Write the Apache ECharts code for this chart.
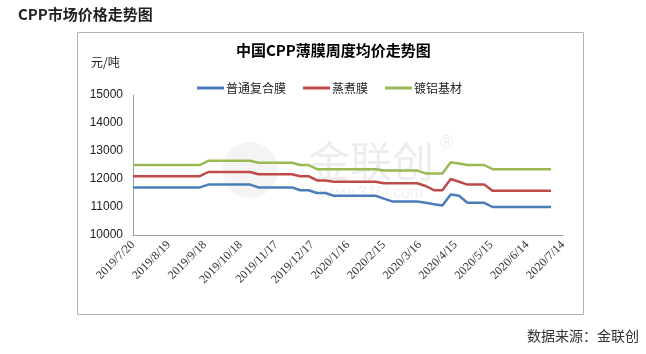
<!DOCTYPE html>
<html>
<head>
<meta charset="utf-8">
<script src="https://cdn.jsdelivr.net/npm/echarts@6/dist/echarts.min.js"></script>
<style>
html,body{margin:0;padding:0;background:#fff;}
#c{width:646px;height:354px;}
</style>
</head>
<body>
<div id="c"></div>
<script>
// ---- data ----
var startDate = '2019/7/20';
var dates = ['2019/7/20','2019/7/27','2019/8/3','2019/8/10','2019/8/17','2019/8/24','2019/8/31','2019/9/7','2019/9/14','2019/9/21',
  '2019/9/28','2019/10/5','2019/10/12','2019/10/19','2019/10/26','2019/11/2','2019/11/9','2019/11/16','2019/11/23','2019/11/30',
  '2019/12/7','2019/12/14','2019/12/21','2019/12/28','2020/1/4','2020/1/11','2020/1/18','2020/1/25','2020/2/1','2020/2/8',
  '2020/2/15','2020/2/22','2020/2/29','2020/3/7','2020/3/14','2020/3/21','2020/3/28','2020/4/4','2020/4/11','2020/4/18',
  '2020/4/25','2020/5/2','2020/5/9','2020/5/16','2020/5/23','2020/5/30','2020/6/6','2020/6/13','2020/6/20','2020/6/27','2020/7/4'];
var seriesNames = ['普通复合膜','蒸煮膜','镀铝基材'];
var blue = [11700,11700,11700,11700,11700,11700,11700,11700,11700,
  11800,11800,11800,11800,11800,11800,
  11700,11700,11700,11700,11700,
  11600,11600,
  11500,11500,
  11400,11400,11400,11400,11400,11400,
  11300,
  11200,11200,11200,11200,
  11150,11100,11050,
  11450,11400,
  11150,11150,11150,
  11000,11000,11000,11000,11000,11000,11000,11000];
var red = [12100,12100,12100,12100,12100,12100,12100,12100,12100,
  12250,12250,12250,12250,12250,12250,
  12170,12170,12170,12170,12170,
  12100,12100,
  11950,11950,
  11900,11900,11900,11900,11900,11900,
  11850,11850,11850,11850,11850,
  11750,11600,11600,
  12000,11900,
  11800,11800,11800,
  11580,11580,11580,11580,11580,11580,11580,11580];
var green = [12500,12500,12500,12500,12500,12500,12500,12500,12500,
  12650,12650,12650,12650,12650,12650,
  12580,12580,12580,12580,12580,
  12500,12500,
  12350,12350,12350,12350,12350,12350,12350,12350,
  12300,12300,12300,12300,12300,
  12200,12200,12200,
  12600,12550,
  12500,12500,12500,
  12350,12350,12350,12350,12350,12350,12350,12350];
var yTicks = {min:10000, max:15000, step:1000};
var xDays = {min:0, max:360, step:30};

// ---- helpers ----
function toMs(s){var p=s.split('/');return Date.UTC(+p[0],+p[1]-1,+p[2]);}
var t0 = toMs(startDate);
function dayOf(s){return Math.round((toMs(s)-t0)/86400000);}
function fmtDay(d){var dt=new Date(t0+d*86400000);return dt.getUTCFullYear()+'/'+(dt.getUTCMonth()+1)+'/'+dt.getUTCDate();}
function pairs(vals){return dates.map(function(d,i){return [dayOf(d), vals[i]];});}

var colors = ['#4a7ebb','#be4b48','#98b954'];
var chart = echarts.init(document.getElementById('c'), null, {renderer:'canvas'});
chart.setOption({
  animation:false,
  backgroundColor:'#fff',
  color: colors,
  graphic:[
    {type:'rect', shape:{x:77.5,y:32.5,width:506,height:282}, style:{fill:'none', stroke:'#b4b4b4', lineWidth:1}, z:-10},
    {type:'text', left:18, top:7, style:{text:'CPP市场价格走势图', font:'bold 15px "Noto Sans CJK SC", sans-serif', fill:'#222'}},
    {type:'text', left:236, top:43, style:{text:'中国CPP薄膜周度均价走势图', font:'bold 15px "Noto Sans CJK SC", sans-serif', fill:'#000'}},
    {type:'text', left:91, top:56, style:{text:'元/吨', font:'12px "Noto Sans CJK SC", sans-serif', fill:'#222'}},
    {type:'text', left:527, top:329, style:{text:'数据来源：金联创', font:'14px "Noto Sans CJK SC", sans-serif', fill:'#333'}},
    {type:'circle', shape:{cx:250, cy:170, r:28}, style:{fill:'rgba(0,0,0,0.045)'}, z:-5},
    {type:'text', left:308, top:140, style:{text:'金联创', font:'42px "Noto Sans CJK SC", sans-serif', fill:'rgba(0,0,0,0.07)'}, z:-5},
    {type:'text', left:440, top:134, style:{text:'®', font:'18px "Liberation Sans", sans-serif', fill:'rgba(0,0,0,0.08)'}, z:-5},
    {type:'text', left:320, top:186, style:{text:'www.315i.com', font:'16px "Liberation Sans", sans-serif', fill:'rgba(0,0,0,0.06)'}, z:-5}
  ],
  legend:{
    data: seriesNames,
    left:197, top:82, padding:0,
    icon:'rect', itemWidth:27, itemHeight:3, itemGap:17,
    textStyle:{fontSize:12, color:'#222', fontFamily:'"Noto Sans CJK SC", sans-serif', padding:[0,0,0,-3]}
  },
  grid:{left:133, right:83, top:95, bottom:119, containLabel:false},
  xAxis:{
    type:'value', min:xDays.min, max:xDays.max, interval:xDays.step,
    axisLine:{show:true, lineStyle:{color:'#a0a0a0', width:1}},
    axisTick:{show:false},
    splitLine:{show:false},
    axisLabel:{rotate:45, margin:8, color:'#333', fontSize:12, fontFamily:'"Liberation Serif", serif',
      formatter:function(v){return fmtDay(v);}, showMinLabel:true, showMaxLabel:true}
  },
  yAxis:{
    type:'value', min:yTicks.min, max:yTicks.max, interval:yTicks.step,
    axisLine:{show:true, lineStyle:{color:'#a0a0a0', width:1}},
    axisTick:{show:false},
    splitLine:{show:false},
    axisLabel:{margin:10, color:'#222', fontSize:12, fontFamily:'"Liberation Sans", Arial, sans-serif',
      formatter:function(v){return String(v);}}
  },
  series:[
    {name:seriesNames[0], type:'line', data:pairs(blue), showSymbol:false, lineStyle:{width:2.5}},
    {name:seriesNames[1], type:'line', data:pairs(red), showSymbol:false, lineStyle:{width:2.5}},
    {name:seriesNames[2], type:'line', data:pairs(green), showSymbol:false, lineStyle:{width:2.5}}
  ]
});
</script>
</body>
</html>
